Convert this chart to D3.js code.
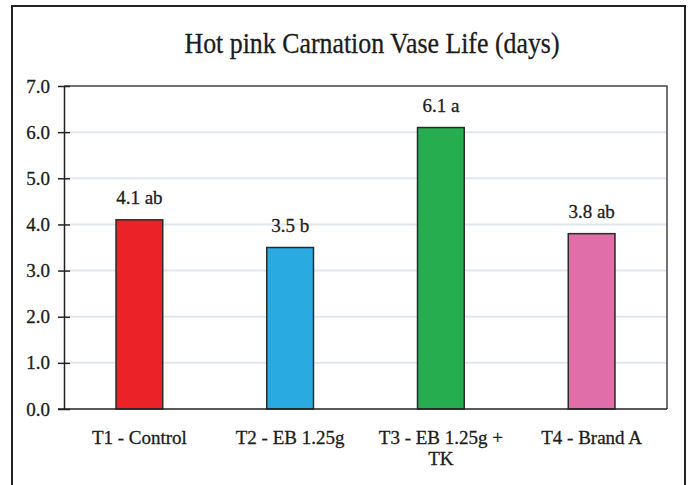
<!doctype html>
<html lang="en">
<head>
    <meta charset="UTF-8">
    <title>Hot pink Carnation Vase Life</title>
    <script src="https://d3js.org/d3.v7.min.js"></script>
    <style>
        body { margin: 0; background: white; }
        svg { display: block; }
    </style>
</head>
<body>
    <svg width="688" height="485"></svg>
    <script>
        const categories = ['T1 - Control', 'T2 - EB 1.25g', 'T3 - EB 1.25g + TK', 'T4 - Brand A'];
        const values = [4.1, 3.5, 6.1, 3.8];
        const letters = ['ab', 'b', 'a', 'ab'];
        const barColors = ['#ec2229', '#29abe2', '#26ad4f', '#e06fa9'];
        const yTicks = [0, 1, 2, 3, 4, 5, 6, 7];

        const FONT = "'Liberation Serif', 'Times New Roman', 'DejaVu Serif'";
        const ink = '#1c1c1c';

        const svg = d3.select('svg');

        // style helper for all texts
        function serif(sel, size) {
            sel.style('font-family', FONT)
                .style('font-size', size + 'px')
                .style('fill', ink)
                .style('stroke', ink)
                .style('stroke-width', '0.3px');
        }

        // outer frame
        svg.append('rect')
            .attr('x', 12).attr('y', 6)
            .attr('width', 673).attr('height', 500)
            .attr('fill', 'none')
            .attr('stroke', '#222')
            .attr('stroke-width', 2);

        svg.append('text')
            .attr('x', 372).attr('y', 53)
            .attr('text-anchor', 'middle')
            .attr('textLength', 375)
            .attr('lengthAdjust', 'spacingAndGlyphs')
            .text('Hot pink Carnation  Vase Life (days)')
            .call(serif, 29);

        const plotL = 64, plotR = 667, plotT = 86, plotB = 409;

        const x = d3.scaleBand()
            .domain(categories)
            .range([plotL, plotR])
            .paddingInner(0.69)
            .paddingOuter(0.345);

        const y = d3.scaleLinear()
            .domain([0, 7])
            .range([plotB, plotT]);

        // gridlines
        svg.append('g')
            .selectAll('line')
            .data(yTicks.filter(t => t > 0 && t < 7))
            .join('line')
            .attr('x1', plotL + 6).attr('x2', plotR)
            .attr('y1', d => y(d)).attr('y2', d => y(d))
            .attr('stroke', '#dfe7f2')
            .attr('stroke-width', 2);

        // plot frame (top/right)
        svg.append('path')
            .attr('d', `M${plotL},${plotT}H${plotR}V${plotB}`)
            .attr('fill', 'none')
            .attr('stroke', '#444')
            .attr('stroke-width', 1.5);

        // bars
        svg.append('g')
            .selectAll('rect')
            .data(values)
            .join('rect')
            .attr('x', (d, i) => x(categories[i]))
            .attr('y', d => y(d))
            .attr('width', x.bandwidth())
            .attr('height', d => y(0) - y(d))
            .attr('fill', (d, i) => barColors[i])
            .attr('stroke', '#2a2a2a')
            .attr('stroke-width', 1.5);

        // value labels
        svg.append('g')
            .selectAll('text')
            .data(values)
            .join('text')
            .attr('x', (d, i) => x(categories[i]) + x.bandwidth() / 2)
            .attr('y', d => y(d) - 16)
            .attr('text-anchor', 'middle')
            .text((d, i) => `${d.toFixed(1)} ${letters[i]}`)
            .call(serif, 19);

        // y axis
        const yAxis = svg.append('g')
            .attr('transform', `translate(${plotL},0)`)
            .call(d3.axisLeft(y).tickValues(yTicks).tickFormat(d3.format('.1f')).tickSize(6).tickSizeOuter(0));
        yAxis.select('.domain').attr('stroke', '#222').attr('stroke-width', 1.5);
        yAxis.selectAll('.tick line').attr('stroke', '#222').attr('stroke-width', 1.5).attr('x2', -6).attr('x1', 6);
        yAxis.selectAll('.tick text')
            .attr('x', -14)
            .call(serif, 19);

        // x axis
        const xAxis = svg.append('g')
            .attr('transform', `translate(0,${plotB})`)
            .call(d3.axisBottom(x).tickSize(0).tickSizeOuter(0));
        xAxis.select('.domain').attr('stroke', '#222').attr('stroke-width', 1.5)
            .attr('d', `M${plotL - 6},0H${plotR}`);
        xAxis.selectAll('.tick text')
            .attr('y', 22)
            .attr('dy', '0.71em')
            .call(serif, 19)
            .each(function (d) {
                const t = d3.select(this);
                if (d === 'T3 - EB 1.25g + TK') {
                    t.text(null);
                    t.append('tspan').attr('x', 0).attr('dy', '0.71em').text('T3 - EB 1.25g +');
                    t.append('tspan').attr('x', 0).attr('dy', '1.1em').text('TK');
                    t.attr('dy', null);
                }
            });
    </script>
</body>
</html>
